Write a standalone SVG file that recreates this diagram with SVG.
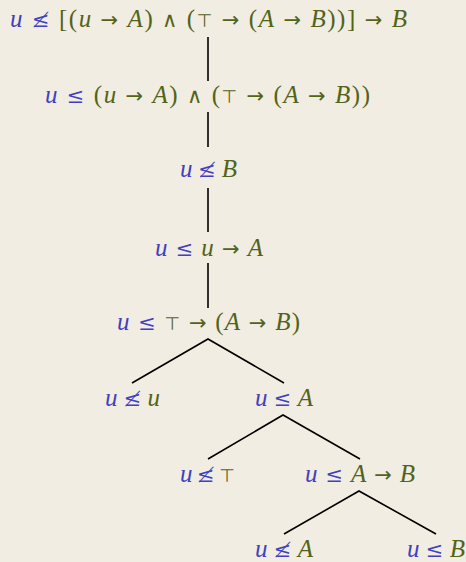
<svg xmlns="http://www.w3.org/2000/svg" width="466" height="562" viewBox="0 0 466 562">
<style>
text{font-family:"Liberation Serif","DejaVu Serif",serif;font-size:25px;text-anchor:middle;fill:#52631a}
.v{font-style:italic}
.b{fill:#4040c0}
.r{font-family:"DejaVu Serif",serif;font-size:21px}
.a{font-family:"DejaVu Sans",sans-serif;font-size:21px}
.t{font-family:"DejaVu Sans",sans-serif;font-size:18px}
.e{stroke:#000;stroke-width:1.6;fill:none}
</style>
<rect width="466" height="562" fill="#f2ede2"/>
<g id="connectors">
<line class="e" x1="208" y1="37" x2="208" y2="81"/>
<line class="e" x1="208" y1="112" x2="208" y2="147"/>
<line class="e" x1="208" y1="188" x2="208" y2="232"/>
<line class="e" x1="208" y1="263" x2="208" y2="308"/>
<polyline class="e" points="132,383 208,339 284,383"/>
<polyline class="e" points="208,459 283,415 360,459"/>
<polyline class="e" points="284,534 359,491 436,534"/>
</g>
<g id="n1"><text x="208.5" y="27" textLength="397" lengthAdjust="spacing"><tspan class="b v">u</tspan> <tspan class="b r">≰</tspan> [(<tspan class="v">u</tspan> <tspan class="a">→</tspan> <tspan class="v">A</tspan>) <tspan class="a">∧</tspan> (<tspan class="t">⊤</tspan> <tspan class="a">→</tspan> (<tspan class="v">A</tspan> <tspan class="a">→</tspan> <tspan class="v">B</tspan>))] <tspan class="a">→</tspan> <tspan class="v">B</tspan></text></g>
<g id="n2"><text x="207.5" y="103" textLength="325" lengthAdjust="spacing"><tspan class="b v">u</tspan> <tspan class="b r">≤</tspan> (<tspan class="v">u</tspan> <tspan class="a">→</tspan> <tspan class="v">A</tspan>) <tspan class="a">∧</tspan> (<tspan class="t">⊤</tspan> <tspan class="a">→</tspan> (<tspan class="v">A</tspan> <tspan class="a">→</tspan> <tspan class="v">B</tspan>))</text></g>
<g id="n3"><text x="208.5" y="177" textLength="57" lengthAdjust="spacing"><tspan class="b v">u</tspan> <tspan class="b r">≰</tspan> <tspan class="v">B</tspan></text></g>
<g id="n4"><text x="209" y="256" textLength="108" lengthAdjust="spacing"><tspan class="b v">u</tspan> <tspan class="b r">≤</tspan> <tspan class="v">u</tspan> <tspan class="a">→</tspan> <tspan class="v">A</tspan></text></g>
<g id="n5"><text x="208.5" y="330" textLength="183" lengthAdjust="spacing"><tspan class="b v">u</tspan> <tspan class="b r">≤</tspan> <tspan class="t">⊤</tspan> <tspan class="a">→</tspan> (<tspan class="v">A</tspan> <tspan class="a">→</tspan> <tspan class="v">B</tspan>)</text></g>
<g id="n6"><text x="132.5" y="406" textLength="55" lengthAdjust="spacing"><tspan class="b v">u</tspan> <tspan class="b r">≰</tspan> <tspan class="v">u</tspan></text></g>
<g id="n7"><text x="284" y="406" textLength="58" lengthAdjust="spacing"><tspan class="b v">u</tspan> <tspan class="b r">≤</tspan> <tspan class="v">A</tspan></text></g>
<g id="n8"><text x="207.5" y="482" textLength="55" lengthAdjust="spacing"><tspan class="b v">u</tspan> <tspan class="b r">≰</tspan> <tspan class="t">⊤</tspan></text></g>
<g id="n9"><text x="360" y="482" textLength="110" lengthAdjust="spacing"><tspan class="b v">u</tspan> <tspan class="b r">≤</tspan> <tspan class="v">A</tspan> <tspan class="a">→</tspan> <tspan class="v">B</tspan></text></g>
<g id="n10"><text x="284" y="557" textLength="58" lengthAdjust="spacing"><tspan class="b v">u</tspan> <tspan class="b r">≰</tspan> <tspan class="v">A</tspan></text></g>
<g id="n11"><text x="436" y="557" textLength="58" lengthAdjust="spacing"><tspan class="b v">u</tspan> <tspan class="b r">≤</tspan> <tspan class="v">B</tspan></text></g>
</svg>
